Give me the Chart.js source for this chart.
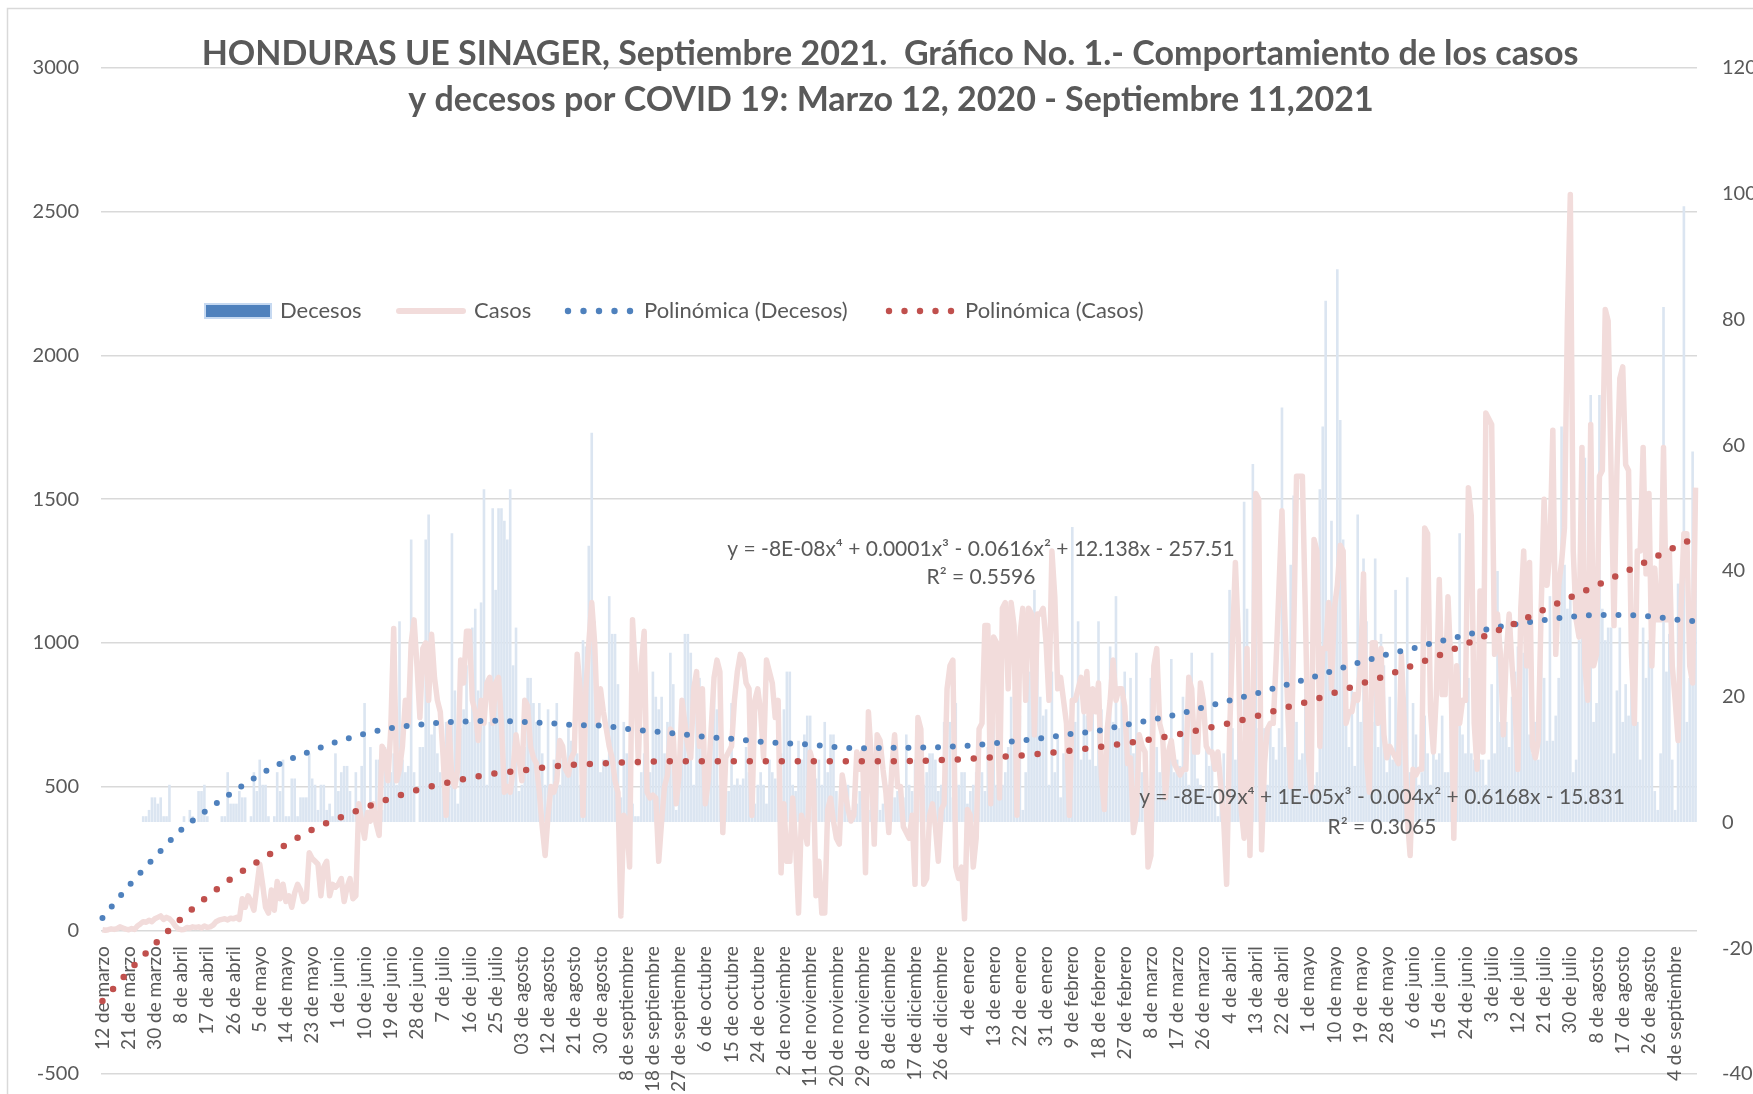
<!DOCTYPE html>
<html>
<head>
<meta charset="utf-8">
<title>Honduras COVID 19 - casos y decesos</title>
<script src="https://cdn.jsdelivr.net/npm/chart.js@4.4.1/dist/chart.umd.min.js"></script>
<style>
    html, body { margin: 0; padding: 0; background: #fff; overflow: hidden; }
    #wrap { width: 1800px; height: 1094px; }
</style>
</head>
<body>
<div id="wrap"><canvas id="chart" width="1800" height="1094"></canvas></div>
<script>
// Casos diarios (eje izquierdo), 12 mar 2020 - 11 sep 2021
const casos = [
    2, 0, 2, 5, 3, 6, 12, 8, 4, 2,
    6, 3, 15, 22, 30, 28, 35, 30, 40, 45,
    50, 38, 45, 40, 30, 15, 5, 2, 3, 10,
    8, 12, 10, 12, 8, 15, 10, 12, 18, 30,
    35, 38, 40, 36, 42, 40, 45, 38, 110, 80,
    120, 100, 70, 150, 230, 160, 80, 60, 140, 70,
    170, 110, 160, 100, 120, 80, 130, 160, 140, 100,
    110, 270, 250, 240, 230, 120, 220, 240, 120, 160,
    150, 160, 180, 100, 150, 180, 110, 120, 440, 380,
    320, 410, 380, 440, 370, 330, 640, 620, 520, 700,
    1050, 520, 560, 640, 800, 720, 1000, 1080, 920, 740,
    980, 1000, 800, 1030, 880, 800, 760, 600, 400, 720,
    520, 500, 560, 940, 860, 1040, 1040, 800, 760, 660,
    800, 720, 860, 880, 720, 860, 880, 720, 480, 500,
    480, 560, 680, 600, 520, 800, 780, 640, 600, 580,
    480, 360, 260, 400, 500, 480, 520, 660, 640, 560,
    540, 600, 620, 960, 840, 400, 840, 1000, 1140, 1000,
    720, 840, 760, 700, 640, 600, 520, 480, 50, 400,
    380, 220, 1080, 900, 580, 920, 1040, 480, 460, 470,
    460, 240, 380, 500, 540, 700, 680, 440, 540, 800,
    720, 640, 600, 840, 900, 640, 840, 440, 520, 700,
    880, 940, 900, 340, 600, 620, 640, 800, 900, 960,
    940, 860, 840, 400, 800, 840, 760, 600, 940, 900,
    860, 740, 800, 200, 440, 240, 240, 460, 300, 60,
    400, 360, 300, 620, 580, 120, 240, 60, 60, 420,
    460, 380, 320, 300, 540, 480, 420, 380, 400, 620,
    560, 620, 200, 760, 600, 300, 680, 660, 560, 480,
    340, 560, 680, 500, 500, 360, 340, 320, 400, 160,
    740, 700, 160, 180, 400, 440, 360, 240, 420, 440,
    840, 920, 940, 220, 180, 220, 40, 420, 400, 220,
    320, 700, 720, 1060, 1060, 440, 1020, 1000, 460, 1120,
    1140, 840, 1140, 1060, 400, 1020, 1120, 800, 1120, 1100,
    680, 1100, 1100, 1120, 1000, 800, 1320, 1160, 840, 880,
    800, 720, 400, 800, 800, 840, 880, 760, 900, 700,
    840, 760, 860, 540, 420, 700, 800, 940, 800, 840,
    840, 780, 580, 600, 340, 400, 680, 640, 620, 220,
    260, 920, 980, 720, 680, 460, 620, 660, 580, 560,
    540, 560, 560, 880, 840, 620, 620, 860, 800, 640,
    620, 620, 560, 620, 500, 380, 160, 680, 1000, 1280,
    1020, 420, 320, 980, 260, 720, 1520, 1500, 280, 580,
    700, 720, 720, 940, 1200, 1460, 1080, 760, 500, 1020,
    1580, 1580, 1580, 1120, 620, 480, 1360, 1320, 640, 980,
    980, 1140, 840, 1120, 1200, 1340, 1320, 720, 760, 760,
    820, 800, 920, 1240, 600, 480, 1000, 1000, 720, 980,
    680, 600, 640, 620, 600, 580, 960, 720, 400, 260,
    560, 540, 560, 560, 1400, 1380, 760, 620, 820, 1220,
    820, 820, 1160, 920, 320, 920, 720, 800, 800, 1540,
    1440, 720, 560, 1180, 620, 1800, 1780, 1760, 960, 1100,
    960, 680, 960, 1100, 920, 780, 560, 1120, 1320, 920,
    1280, 640, 600, 660, 1120, 1500, 1200, 1320, 1740, 960,
    1200, 1280, 1400, 2120, 2560, 1320, 1080, 1020, 1680, 920,
    800, 1760, 920, 960, 1580, 1600, 2160, 2120, 1600, 1060,
    1600, 1920, 1960, 1620, 1600, 960, 720, 1320, 1320, 1680,
    1240, 1520, 920, 1260, 1080, 1080, 1680, 1080, 1320, 920,
    800, 660, 1120, 1380, 1380, 920, 860, 1540
];

// Decesos diarios (eje derecho)
const decesos = [
    0, 0, 0, 0, 0, 0, 0, 0, 0, 0,
    0, 0, 0, 0, 1, 1, 2, 4, 4, 3,
    4, 1, 1, 6, 0, 0, 0, 0, 1, 0,
    2, 1, 0, 5, 5, 6, 1, 0, 0, 0,
    0, 1, 1, 8, 3, 3, 3, 5, 4, 4,
    0, 1, 8, 5, 10, 6, 6, 1, 0, 1,
    8, 5, 10, 1, 1, 7, 7, 1, 4, 4,
    4, 11, 7, 6, 2, 6, 6, 2, 3, 1,
    11, 5, 8, 9, 9, 5, 2, 8, 3, 9,
    19, 2, 12, 2, 10, 10, 2, 12, 7, 8,
    11, 6, 32, 10, 8, 9, 45, 8, 0, 12,
    12, 45, 49, 14, 16, 11, 8, 12, 16, 16,
    46, 21, 3, 15, 18, 25, 16, 31, 34, 21,
    35, 53, 6, 16, 50, 37, 50, 50, 48, 45,
    53, 25, 31, 5, 6, 12, 23, 23, 19, 16,
    19, 11, 6, 18, 6, 10, 19, 6, 10, 10,
    15, 13, 13, 11, 6, 29, 28, 44, 62, 32,
    15, 8, 10, 10, 36, 30, 30, 22, 4, 16,
    11, 8, 3, 1, 1, 8, 11, 8, 8, 24,
    20, 18, 20, 11, 16, 27, 22, 2, 6, 16,
    30, 30, 27, 6, 23, 23, 16, 6, 8, 12,
    23, 18, 6, 3, 6, 5, 19, 6, 7, 6,
    7, 12, 8, 4, 3, 6, 8, 6, 3, 10,
    8, 7, 6, 11, 18, 24, 24, 6, 5, 13,
    10, 14, 17, 17, 9, 7, 10, 6, 16, 8,
    14, 14, 5, 2, 4, 5, 6, 2, 4, 3,
    5, 6, 3, 2, 6, 5, 8, 2, 3, 4,
    6, 5, 4, 5, 3, 4, 14, 6, 5, 10,
    3, 6, 6, 8, 11, 11, 10, 5, 6, 16,
    22, 16, 4, 19, 6, 8, 8, 3, 5, 6,
    8, 11, 8, 5, 12, 10, 16, 6, 6, 6,
    8, 12, 20, 14, 16, 17, 2, 8, 24, 28,
    37, 28, 20, 17, 18, 6, 24, 8, 14, 4,
    11, 14, 14, 47, 16, 32, 10, 20, 17, 10,
    19, 9, 32, 18, 10, 16, 28, 16, 36, 15,
    20, 24, 16, 23, 11, 27, 10, 8, 4, 5,
    23, 12, 12, 8, 10, 6, 10, 26, 8, 10,
    9, 20, 8, 6, 27, 12, 7, 6, 5, 15,
    9, 27, 5, 1, 7, 11, 5, 37, 15, 10,
    16, 10, 51, 34, 17, 57, 34, 15, 8, 15,
    6, 16, 12, 10, 15, 66, 12, 24, 41, 52,
    16, 10, 11, 37, 15, 8, 6, 8, 53, 63,
    83, 32, 48, 36, 88, 64, 45, 20, 12, 21,
    9, 49, 16, 42, 32, 11, 16, 42, 12, 30,
    25, 8, 20, 10, 37, 16, 20, 16, 39, 8,
    19, 14, 6, 8, 17, 11, 6, 16, 10, 11,
    17, 8, 8, 16, 11, 20, 46, 14, 11, 23,
    11, 10, 14, 10, 10, 6, 10, 22, 11, 40,
    16, 15, 16, 12, 20, 24, 28, 20, 27, 29,
    14, 11, 16, 10, 28, 23, 13, 36, 13, 17,
    23, 63, 41, 34, 36, 8, 10, 29, 60, 58,
    23, 68, 16, 19, 68, 34, 29, 31, 31, 11,
    21, 31, 16, 22, 17, 34, 20, 16, 10, 31,
    23, 29, 29, 5, 2, 11, 82, 24, 30, 10,
    2, 38, 38, 98, 16, 23, 59, 53
];

// Etiquetas visibles del eje X (una cada 9 dias)
const etiquetas = [
    '12 de marzo', '21 de marzo', '30 de marzo', '8 de abril', '17 de abril', '26 de abril',
    '5 de mayo', '14 de mayo', '23 de mayo', '1 de junio', '10 de junio', '19 de junio',
    '28 de junio', '7 de julio', '16 de julio', '25 de julio', '03 de agosto', '12 de agosto',
    '21 de agosto', '30 de agosto', '8 de septiembre', '18 de septiembre', '27 de septiembre',
    '6 de octubre', '15 de octubre', '24 de octubre', '2 de noviembre', '11 de noviembre',
    '20 de noviembre', '29 de noviembre', '8 de diciembre', '17 de diciembre', '26 de diciembre',
    '4 de enero', '13 de enero', '22 de enero', '31 de enero', '9 de febrero', '18 de febrero',
    '27 de febrero', '8 de marzo', '17 de marzo', '26 de marzo', '4 de abril', '13 de abril',
    '22 de abril', '1 de mayo', '10 de mayo', '19 de mayo', '28 de mayo', '6 de junio',
    '15 de junio', '24 de junio', '3 de julio', '12 de julio', '21 de julio', '30 de julio',
    '8 de agosto', '17 de agosto', '26 de agosto', '4 de septiembre'
];

// Lineas de tendencia, en los dias de cada etiqueta + ultimo dia
const diasTendencia = [
    0, 9, 18, 27, 36, 45, 54, 63, 72, 81, 90, 99, 108, 117, 126, 135, 144, 153, 162, 171,
    180, 189, 198, 207, 216, 225, 234, 243, 252, 261, 270, 279, 288, 297, 306, 315, 324,
    333, 342, 351, 360, 369, 378, 387, 396, 405, 414, 423, 432, 441, 450, 459, 468, 477,
    486, 495, 504, 513, 522, 531, 540, 547
];
const tendenciaCasos = [
    -246, -143, -48, 40, 117, 185, 243, 298, 350, 390,
    426, 459, 488, 510, 530, 546, 556, 568, 576, 580,
    584, 587, 588, 588, 588, 588, 588, 588, 588, 588,
    588, 589, 592, 596, 602, 608, 616, 626, 637, 650,
    664, 681, 700, 721, 744, 771, 796, 826, 857, 887,
    922, 957, 995, 1034, 1072, 1116, 1158, 1200, 1243, 1287,
    1333, 1367
];
const tendenciaDecesos = [
    -15.2, -10.1, -5.5, -1.2, 2.0, 4.9, 7.6, 9.8, 11.4, 12.9,
    14.1, 15.0, 15.5, 15.9, 16.1, 16.2, 16.0, 15.8, 15.5, 15.4,
    14.9, 14.5, 14.1, 13.6, 13.3, 12.9, 12.6, 12.4, 12.0, 11.8,
    11.9, 11.9, 12.0, 12.2, 12.6, 13.0, 13.5, 14.1, 14.6, 15.5,
    16.3, 17.2, 18.3, 19.4, 20.5, 21.7, 22.9, 24.2, 25.5, 26.7,
    27.7, 28.8, 29.8, 30.9, 31.6, 32.2, 32.7, 33.0, 33.0, 32.8,
    32.3, 32.0
];

const dias = casos.map((v, i) => i);

// Serie dispersa para la tendencia (solo en los dias muestreados)
function serieTendencia(valores) {
    const serie = dias.map(() => null);
    diasTendencia.forEach((d, k) => { serie[d] = valores[k]; });
    return serie;
}

const GRIS = '#595959';
const FUENTE = "Lato, 'Open Sans', sans-serif";
const INVISIBLE = 'rgba(0,0,0,0)';

// Marco, titulo, leyenda y ecuaciones
const decoracion = {
    id: 'decoracion',
    beforeDraw(chart) {
        const c = chart.ctx;
        c.save();
        c.fillStyle = '#fff';
        c.fillRect(0, 0, chart.width, chart.height);
        c.strokeStyle = '#d9d9d9';
        c.lineWidth = 1.5;
        c.strokeRect(7.5, 8.5, chart.width + 20, chart.height + 20);
        c.restore();
    },
    afterDraw(chart) {
        const c = chart.ctx;
        c.save();
        c.fillStyle = GRIS;
        c.textAlign = 'center';
        c.textBaseline = 'alphabetic';
        c.font = `bold 34px ${FUENTE}`;
        c.fillText('HONDURAS UE SINAGER, Septiembre 2021.  Gráfico No. 1.- Comportamiento de los casos', 890, 65);
        c.fillText('y decesos por COVID 19: Marzo 12, 2020 - Septiembre 11,2021', 891, 111);

        // leyenda
        const y = 311;
        c.textAlign = 'left';
        c.textBaseline = 'middle';
        c.font = `22px ${FUENTE}`;
        c.fillStyle = '#4f81bd';
        c.fillRect(205, y - 7, 66, 14);
        c.strokeStyle = '#c6d9f1';
        c.lineWidth = 2;
        c.strokeRect(205, y - 7, 66, 14);
        c.fillStyle = GRIS;
        c.fillText('Decesos', 280, y);

        c.strokeStyle = 'rgb(242,220,219)';
        c.lineWidth = 6;
        c.lineCap = 'round';
        c.beginPath();
        c.moveTo(399, y);
        c.lineTo(463, y);
        c.stroke();
        c.fillText('Casos', 474, y);

        [['#4f81bd', 568, 'Polinómica (Decesos)', 644], ['#c0504d', 889, 'Polinómica (Casos)', 965]].forEach(([color, x0, texto, xt]) => {
            c.fillStyle = color;
            for (let k = 0; k < 5; k++) {
                c.beginPath();
                c.arc(x0 + k * 15.5, y, 3.2, 0, Math.PI * 2);
                c.fill();
            }
            c.fillStyle = GRIS;
            c.fillText(texto, xt, y);
        });

        // ecuaciones de tendencia
        c.textAlign = 'center';
        c.font = `21px ${FUENTE}`;
        c.fillText('y = -8E-08x⁴ + 0.0001x³ - 0.0616x² + 12.138x - 257.51', 981, 549);
        c.fillText('R² = 0.5596', 981, 577);
        c.fillText('y = -8E-09x⁴ + 1E-05x³ - 0.004x² + 0.6168x - 15.831', 1382, 797);
        c.fillText('R² = 0.3065', 1382, 827);
        c.restore();
    }
};

const ctx = document.getElementById('chart').getContext('2d');
const chart = new Chart(ctx, {
    type: 'bar',
    data: {
        labels: dias,
        datasets: [
            {
                type: 'bar',
                label: 'Decesos',
                data: decesos,
                yAxisID: 'y1',
                backgroundColor: 'rgb(219,229,241)',
                borderWidth: 0,
                categoryPercentage: 1,
                barPercentage: 0.9,
                order: 4
            },
            {
                type: 'line',
                label: 'Casos',
                data: casos,
                yAxisID: 'y',
                borderColor: 'rgb(242,220,219)',
                borderWidth: 5.5,
                borderJoinStyle: 'round',
                pointRadius: 0,
                tension: 0,
                order: 3
            },
            {
                type: 'line',
                label: 'Polinómica (Decesos)',
                data: serieTendencia(tendenciaDecesos),
                yAxisID: 'y1',
                borderColor: '#4f81bd',
                borderWidth: 6,
                borderDash: [0, 14.8],
                borderCapStyle: 'round',
                pointRadius: 0,
                spanGaps: true,
                cubicInterpolationMode: 'monotone',
                order: 2
            },
            {
                type: 'line',
                label: 'Polinómica (Casos)',
                data: serieTendencia(tendenciaCasos),
                yAxisID: 'y',
                borderColor: '#c0504d',
                borderWidth: 6.5,
                borderDash: [0, 16],
                borderCapStyle: 'round',
                pointRadius: 0,
                spanGaps: true,
                cubicInterpolationMode: 'monotone',
                order: 1
            }
        ]
    },
    options: {
        responsive: false,
        animation: false,
        layout: { padding: { left: 8, top: 68, right: 0, bottom: 20 } },
        plugins: {
            legend: { display: false },
            title: { display: false },
            tooltip: { enabled: false }
        },
        scales: {
            x: {
                position: { y: 0 },
                offset: true,
                grid: { display: false, drawTicks: false },
                border: { display: false },
                ticks: {
                    autoSkip: false,
                    minRotation: 90,
                    maxRotation: 90,
                    padding: 16,
                    color: GRIS,
                    font: { family: FUENTE, size: 19 },
                    callback: (v, i) => (i % 9 === 0 ? etiquetas[i / 9] : '')
                }
            },
            y: {
                position: 'left',
                min: -500,
                max: 3000,
                grid: { color: '#d9d9d9', lineWidth: 1.5, drawTicks: true, tickLength: 20, tickColor: INVISIBLE },
                border: { display: false },
                ticks: {
                    stepSize: 500,
                    padding: 2,
                    color: GRIS,
                    font: { family: FUENTE, size: 20 },
                    callback: v => String(v)
                },
                afterFit(scale) { scale.width = 93; }
            },
            y1: {
                position: 'right',
                min: -40,
                max: 120,
                grid: { drawOnChartArea: false, drawTicks: true, tickLength: 22, tickColor: INVISIBLE },
                border: { display: false },
                ticks: {
                    stepSize: 20,
                    padding: 3,
                    color: GRIS,
                    font: { family: FUENTE, size: 20 },
                    callback: v => String(v)
                },
                afterFit(scale) { scale.width = 103; }
            }
        }
    },
    plugins: [decoracion]
});
</script>
</body>
</html>
